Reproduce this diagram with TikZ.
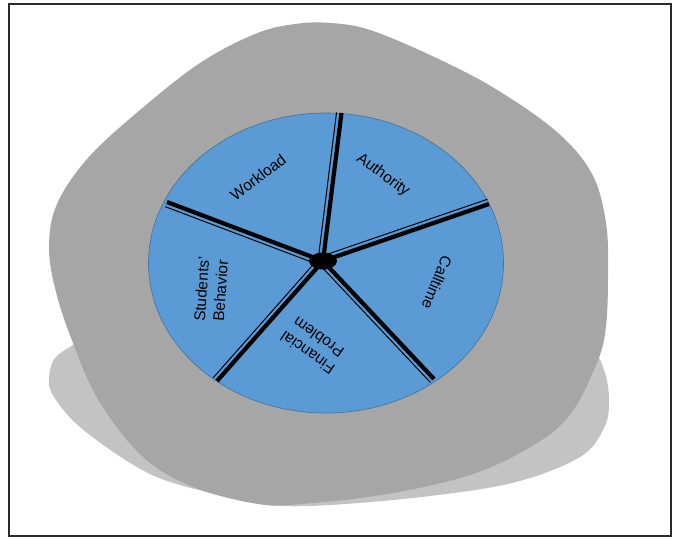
\documentclass[tikz,border=0pt]{standalone}
\usepackage{fontspec}
\setmainfont{Liberation Sans}
\usetikzlibrary{calc, shapes.geometric}

\begin{document}
\begin{tikzpicture}[x=1pt, y=-1pt,
    tag/.style={font=\fontsize{15.5}{19}\selectfont, align=center, inner sep=0pt},
    spoke/.style={line width=4.2pt, draw=black},
    edge/.style={line width=1pt, draw=black}]
    % Define colours
    \definecolor{frameColour}{HTML}{2B2B2B}
    \definecolor{blobColour}{HTML}{A6A6A6}
    \definecolor{shadowColour}{HTML}{C3C3C3}
    \definecolor{wheelColour}{HTML}{5B9BD5}
    \definecolor{rimColour}{HTML}{41719C}

    \useasboundingbox (0,0) rectangle (674,538);

    % Draw frame
    \draw[frameColour, line width=1.5pt] (9,4) rectangle (671,536);

    % Draw shadow and blob
    \fill[shadowColour] plot[smooth cycle, tension=0.6] coordinates {
        (49,378) (62,352) (120,335) (330,330) (540,335) (590,350) (604,370)
        (609,400) (604,428) (580,457) (516,482) (430,496) (330,505) (270,505)
        (215,494) (150,474) (86,432) (56,400)};
    \fill[blobColour] plot[smooth cycle, tension=0.6] coordinates {
        (331,23) (370,30) (430,55) (494,88) (557,132) (592,174) (606,223)
        (608,275) (606,326) (598,360) (572,412) (537,443) (473,474) (387,494)
        (301,504) (258,504) (193,487) (142,456) (99,401) (73,343) (56,292)
        (49,247) (57,204) (88,158) (140,110) (200,63) (255,34) (295,24)};

    % Draw the wheel
    \filldraw[fill=wheelColour, draw=rimColour, line width=0.6pt] (326,263) ellipse [x radius=177.5, y radius=150];

    % Define coordinates for the spoke ends
    \coordinate (top) at (341.5,113);
    \coordinate (upright) at (489,204);
    \coordinate (lowright) at (434,379);
    \coordinate (lowleft) at (217,381);
    \coordinate (upleft) at (167,202);

    % Draw the hub and spokes
    \node[ellipse, fill=black, minimum width=28pt, minimum height=17pt, inner sep=0pt] (hub) at (323,261) {};
    \foreach \rim/\a/\b in {top/90/-90, upright/90/-90, lowright/-90/90, lowleft/-90/90, upleft/90/-90} {
        \draw[spoke] (hub.center) -- (\rim);
        \draw[edge] ($(hub.center)!5pt!\a:(\rim)$) -- ($(\rim)!5pt!\b:(hub.center)$);
    }

    % Label the sectors
    \node[tag, rotate=37] (workload) at (258,177) {Workload};
    \node[tag, rotate=-36] (authority) at (383,175) {Authority};
    \node[tag, rotate=-112] (calltime) at (437,283) {Calltime};
    \node[tag, rotate=145] (financial) at (313,345) {Financial\\Problem};
    \node[tag, rotate=86] (students) at (211,290) {Students'\\Behavior};

\end{tikzpicture}
\end{document}
